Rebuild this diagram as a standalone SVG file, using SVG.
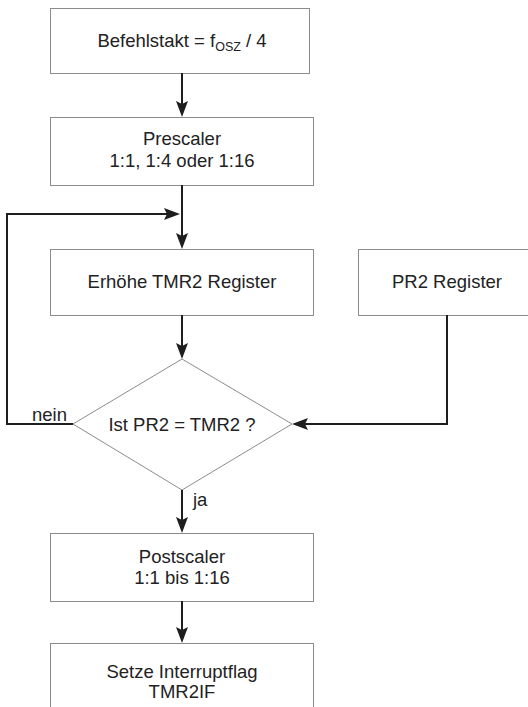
<svg xmlns="http://www.w3.org/2000/svg" width="528" height="707" viewBox="0 0 528 707">
<style>
.box{fill:#fff;stroke:#8c8c8c;stroke-width:1}
.t{font-family:"Liberation Sans",Arial,sans-serif;font-size:18.5px;fill:#222;text-anchor:middle}
.lbl{font-family:"Liberation Sans",Arial,sans-serif;font-size:18.5px;fill:#222}
.c{fill:none;stroke:#1e1e1e;stroke-width:2;marker-end:url(#ah)}
</style>
<defs>
<marker id="ah" viewBox="0 0 16 12" refX="4" refY="6" markerWidth="16" markerHeight="12" markerUnits="userSpaceOnUse" orient="auto">
<path d="M0,0 L16,6 L0,12 L3,6 z" fill="#1e1e1e"/>
</marker>
</defs>
<rect width="528" height="707" fill="#fff"/>
<g id="n-befehlstakt">
<rect class="box" x="50.5" y="8.5" width="259" height="65"/>
<text class="t" x="182" y="47">Befehlstakt = f<tspan font-size="12.5" dy="4">OSZ</tspan><tspan dy="-4"> / 4</tspan></text>
</g>
<g id="n-prescaler">
<rect class="box" x="50.5" y="117.5" width="263" height="68"/>
<text class="t" x="182" y="145">Prescaler</text>
<text class="t" x="182" y="167">1:1, 1:4 oder 1:16</text>
</g>
<g id="n-erhoehe">
<rect class="box" x="50.5" y="249.5" width="263" height="66"/>
<text class="t" x="182" y="288">Erhöhe TMR2 Register</text>
</g>
<g id="n-pr2">
<rect class="box" x="358.5" y="249.5" width="190" height="66"/>
<text class="t" x="447" y="288">PR2 Register</text>
</g>
<g id="n-decision">
<polygon class="box" points="182,359 292,424 182,490 73,424"/>
<text class="t" x="182" y="431">Ist PR2 = TMR2 ?</text>
</g>
<g id="n-postscaler">
<rect class="box" x="50.5" y="533.5" width="263" height="68"/>
<text class="t" x="182" y="563">Postscaler</text>
<text class="t" x="182" y="584">1:1 bis 1:16</text>
</g>
<g id="n-interrupt">
<rect class="box" x="50.5" y="643.5" width="263" height="80"/>
<text class="t" x="182" y="678">Setze Interruptflag</text>
<text class="t" x="182" y="698">TMR2IF</text>
</g>
<g id="connectors">
<path class="c" d="M182,73 V105"/>
<path class="c" d="M182,185 V237"/>
<path class="c" d="M73,424 H7 V214 H168"/>
<path class="c" d="M182,315 V347"/>
<path class="c" d="M447,315 V424 H304"/>
<path class="c" d="M182,490 V521"/>
<path class="c" d="M182,601 V631"/>
<text class="lbl" x="32" y="421">nein</text>
<text class="lbl" x="193" y="506">ja</text>
</g>
</svg>
